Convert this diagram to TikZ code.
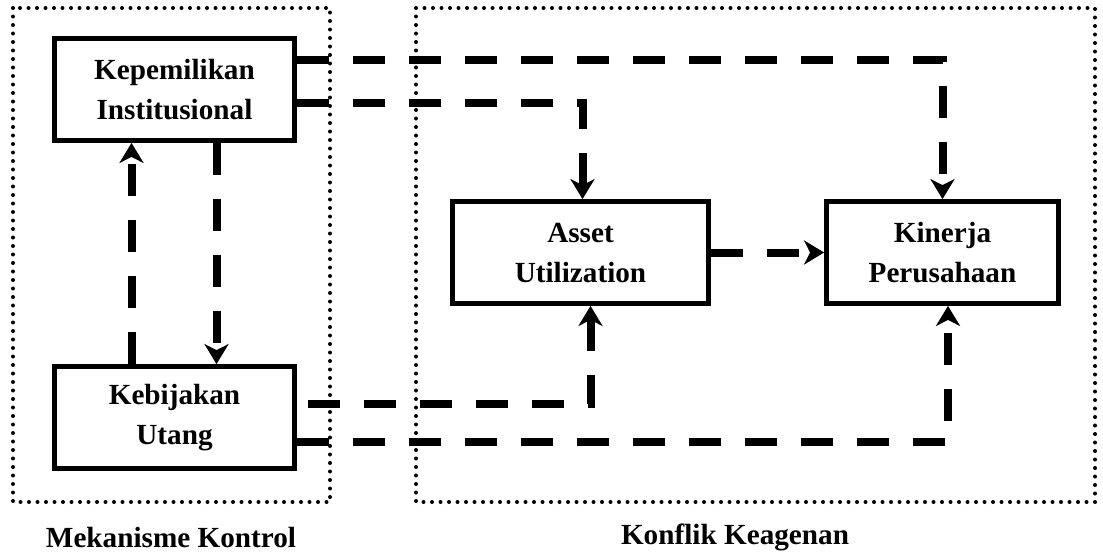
\documentclass[tikz,border=0pt]{standalone}
\usepackage{fontspec}
\setmainfont{Liberation Serif}
\usetikzlibrary{arrows.meta}

\begin{document}
\begin{tikzpicture}[x=0.5pt, y=-0.5pt,
    varbox/.style={draw, line width=2.4pt, minimum width=#1, minimum height=51pt,
      align=center, font=\fontsize{14.6}{20}\selectfont\bfseries},
    link/.style={line width=4pt, dash pattern=on 16pt off 12pt,
      -{Stealth[length=10pt, width=12pt, inset=3pt]}},
    group/.style={line width=2pt, line cap=round, dash pattern=on 0pt off 4.25pt},
    caption/.style={font=\fontsize{14.6}{17}\selectfont\bfseries}]

  \useasboundingbox (0,0) rectangle (1103,554);

  % the two groups
  \draw[group] (13,8) rectangle (330,502);
  \draw[group] (416,8) rectangle (1095,502);
  \node[caption] (kontrol) at (171,537) {Mekanisme Kontrol};
  \node[caption] (keagenan) at (735,537) {Konflik Keagenan};

  \node[varbox=120pt] (kepemilikan) at (174.5,89.5) {Kepemilikan\\Institusional};
  \node[varbox=120pt] (kebijakan) at (174.5,417.5) {Kebijakan\\Utang};
  \node[varbox=128pt] (asset) at (580.5,252.5) {Asset\\Utilization};
  \node[varbox=116pt] (kinerja) at (942.5,252.5) {Kinerja\\Perusahaan};

  % control mechanisms
  \draw[link] ([xshift=21pt]kepemilikan.south) -- ([xshift=21pt]kebijakan.north);
  \draw[link] ([xshift=-21.5pt]kebijakan.north) -- ([xshift=-21.5pt]kepemilikan.south);

  \draw[link] ([yshift=14.75pt]kepemilikan.east) -| (kinerja.north);
  \draw[link] ([yshift=-6.75pt]kepemilikan.east) -| ([xshift=1pt]asset.north);
  \draw[link, dash phase=22.5pt] ([yshift=6.75pt]kebijakan.east) -| ([xshift=5pt]asset.south);
  \draw[link] ([yshift=-12.25pt]kebijakan.east) -| ([xshift=2.75pt]kinerja.south);

  \draw[link] (asset.east) -- (kinerja.west);
\end{tikzpicture}
\end{document}
